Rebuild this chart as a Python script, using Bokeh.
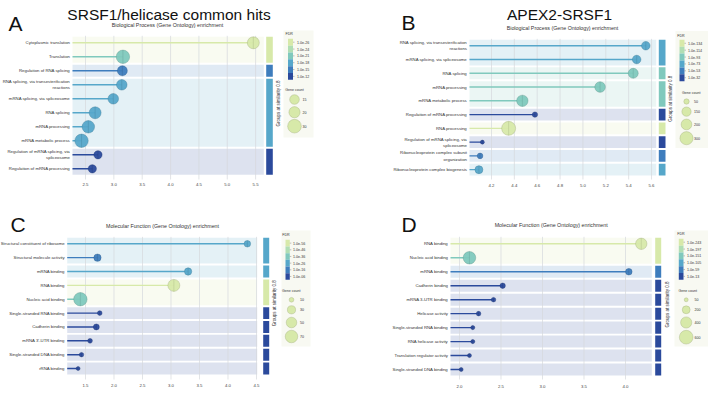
import numpy as np
from bokeh.plotting import figure
from bokeh.models import Range1d, LinearAxis, FixedTicker, ColumnDataSource, Label, PrintfTickFormatter
from bokeh.layouts import column, row
from bokeh.embed import file_html
from bokeh.resources import INLINE
from bokeh.core.properties import value

FONT = "Liberation Sans"
PALETTE = ["#d7e9a9", "#b0deb3", "#80c9bd", "#56a7ca", "#3e7dbd", "#2b4a9c"]

# ---------------- Panel A : SRSF1/helicase common hits, Biological Process
a_terms = ["Cytoplasmic translation", "Translation", "Regulation of RNA splicing",
           "RNA splicing, via transesterification\nreactions", "mRNA splicing, via spliceosome",
           "RNA splicing", "mRNA processing", "mRNA metabolic process",
           "Regulation of mRNA splicing, via\nspliceosome", "Regulation of mRNA processing"]
a_signal = [5.46, 3.16, 3.15, 3.14, 2.99, 2.67, 2.55, 2.43, 2.72, 2.62]
a_log_fdr = [-26, -21, -15, -18, -18, -18, -18, -18, -12, -12]
a_count = [23, 29, 16, 18, 18, 23, 25, 29, 11, 11]
a_group = [0, 0, 1, 2, 2, 2, 2, 2, 3, 3]
a_fdr_levels = [-26, -24, -21, -18, -15, -12]
a_count_legend = [15, 20, 30]
a_ticks = [2.5, 3.0, 3.5, 4.0, 4.5, 5.0, 5.5]

# ---------------- Panel B : APEX2-SRSF1, Biological Process
b_terms = ["RNA splicing, via transesterification\nreactions", "mRNA splicing, via spliceosome",
           "RNA splicing", "mRNA processing", "mRNA metabolic process",
           "Regulation of mRNA processing", "RNA processing",
           "Regulation of mRNA splicing, via\nspliceosome",
           "Ribonucleoprotein complex subunit\norganization", "Ribonucleoprotein complex biogenesis"]
b_signal = [5.55, 5.47, 5.44, 5.15, 4.47, 4.58, 4.35, 4.12, 4.10, 4.09]
b_log_fdr = [-73, -73, -93, -93, -93, -32, -134, -32, -53, -73]
b_count = [128, 128, 173, 195, 225, 50, 340, 28, 55, 111]
b_group = [0, 0, 1, 2, 2, 3, 4, 5, 6, 7]
b_fdr_levels = [-134, -114, -93, -73, -53, -32]
b_count_legend = [50, 150, 200, 300]
b_ticks = [4.2, 4.4, 4.6, 4.8, 5.0, 5.2, 5.4, 5.6]

# ---------------- Panel C : SRSF1/helicase common hits, Molecular Function
c_terms = ["Structural constituent of ribosome", "Structural molecule activity", "mRNA binding",
           "RNA binding", "Nucleic acid binding", "Single-stranded RNA binding", "Cadherin binding",
           "mRNA 3'-UTR binding", "Single-stranded DNA binding", "rRNA binding"]
c_signal = [4.34, 1.71, 3.30, 3.05, 1.41, 1.75, 1.69, 1.58, 1.43, 1.37]
c_log_fdr = [-26, -16, -26, -56, -36, -6, -6, -6, -6, -6]
c_count = [19, 24, 24, 64, 80, 10, 16, 10, 9, 7]
c_group = [0, 0, 1, 2, 2, 3, 4, 5, 6, 7]
c_fdr_levels = [-56, -46, -36, -26, -16, -6]
c_count_legend = [10, 30, 50, 70]
c_ticks = [1.5, 2.0, 2.5, 3.0, 3.5, 4.0, 4.5]

# ---------------- Panel D : APEX2-SRSF1, Molecular Function
d_terms = ["RNA binding", "Nucleic acid binding", "mRNA binding", "Cadherin binding",
           "mRNA 3-UTR binding", "Helicase activity", "Single-stranded RNA binding",
           "RNA helicase activity", "Translation regulator activity", "Single-stranded DNA binding"]
d_signal = [4.19, 2.12, 4.04, 2.52, 2.41, 2.23, 2.16, 2.16, 2.12, 2.02]
d_log_fdr = [-243, -151, -59, -13, -13, -13, -13, -13, -13, -13]
d_count = [414, 506, 139, 93, 67, 67, 55, 55, 52, 52]
d_group = [0, 0, 1, 2, 3, 4, 5, 6, 7, 8]
d_fdr_levels = [-243, -197, -151, -105, -59, -13]
d_count_legend = [50, 200, 400, 600]
d_ticks = [2.0, 2.5, 3.0, 3.5, 4.0]


def darken(h, f=0.72):
    h = h.lstrip("#")
    r, g, b = (int(h[i:i + 2], 16) for i in (0, 2, 4))
    return "#%02x%02x%02x" % (int(r * f), int(g * f), int(b * f))


def txt(p, x, y, s, size, align="left", baseline="middle", color="#333333", angle=0.0, **kw):
    p.text(x=[x], y=[y], text=[s], text_align=align, text_baseline=baseline,
           text_font=value(FONT), text_font_size=size, text_color=color, angle=angle, **kw)


def make_panel(d, g):
    W, H = 354, 198
    fb = g["fb"]
    n = len(d["terms"])
    p = figure(width=W, height=H, output_backend="svg", toolbar_location=None,
               x_range=Range1d(0, W), y_range=Range1d(fb, 0),
               x_axis_type=None, y_axis_type=None,
               min_border_left=0, min_border_right=0, min_border_top=0,
               min_border_bottom=H - fb)
    p.outline_line_color = None
    p.background_fill_color = "white"
    p.border_fill_color = "white"
    ppu, t0, t0px = g["ppu"], g["tick0"], g["tick0_px"]
    p.extra_x_ranges = {"sig": Range1d(t0 - t0px / ppu, t0 + (W - t0px) / ppu)}
    p.extra_y_ranges = {"row": Range1d((fb - g["row0"]) / g["sp"], -g["row0"] / g["sp"])}
    xmin = t0 - (t0px - g["left"]) / ppu
    xmax = t0 + (g["right"] - t0px) / ppu

    levels = np.array(d["fdr_levels"])
    colors = [PALETTE[int(np.argmin(np.abs(levels - v)))] for v in d["log_fdr"]]

    # group bands and group bars
    groups = d["groups"]
    tops, bots, gcols = [], [], []
    for gid in sorted(set(groups)):
        rr = [i for i, gg in enumerate(groups) if gg == gid]
        tops.append(min(rr) - 0.5 + 0.07)
        bots.append(max(rr) + 0.5 - 0.07)
        gcols.append(colors[min(rr)])
    ng = len(tops)
    gsrc = ColumnDataSource(dict(top=tops, bottom=bots, c=gcols,
                                 bl=[g["left"]] * ng, br=[g["right"]] * ng,
                                 gl=[g["bar"][0]] * ng, gr=[g["bar"][1]] * ng))
    p.quad(left="bl", right="br", top="top", bottom="bottom", fill_color="c",
           fill_alpha=0.16, line_color=None, source=gsrc, y_range_name="row")
    p.quad(left="gl", right="gr", top="top", bottom="bottom", fill_color="c",
           line_color=None, source=gsrc, y_range_name="row")

    ticks = d["ticks"]
    p.segment(x0=ticks, x1=ticks, y0=[-0.5] * len(ticks), y1=[n - 0.1] * len(ticks),
              x_range_name="sig", y_range_name="row", line_color="#d6d8dc", line_width=0.7)

    # lollipops
    k = g["k"]
    src = ColumnDataSource(dict(x=d["signal"], y=list(range(n)), c=colors,
                                oc=[darken(c) for c in colors], x0=[xmin] * n,
                                s=[2 * k * np.sqrt(v) for v in d["count"]]))
    p.segment(x0="x0", x1="x", y0="y", y1="y", line_color="c", line_width=1.4, source=src,
              x_range_name="sig", y_range_name="row")
    p.scatter(x="x", y="y", size="s", fill_color="c", line_color="oc", line_width=0.5,
              line_alpha=0.7, fill_alpha=0.95, source=src, x_range_name="sig", y_range_name="row")
    p.scatter(x="x", y="y", size="s", marker="dash", angle=np.pi / 2, line_color="oc",
              line_width=0.5, line_alpha=0.6, source=src, x_range_name="sig", y_range_name="row")

    # term labels
    lsrc = ColumnDataSource(dict(lx=[g["left"] - 2.5] * n, y=list(range(n)), t=d["terms"]))
    p.text(x="lx", y="y", text="t", source=lsrc, text_align="right",
           text_baseline="middle", text_font=value(FONT), text_font_size="4.3px",
           text_color="#333333", text_line_height=1.25, y_range_name="row")

    # signal axis
    ax = LinearAxis(x_range_name="sig", ticker=FixedTicker(ticks=ticks), bounds=(xmin, xmax),
                    formatter=PrintfTickFormatter(format="%.1f"))
    ax.axis_line_color = None
    ax.major_tick_line_color = None
    ax.minor_tick_line_color = None
    ax.major_tick_out = 0
    ax.major_tick_in = 0
    ax.major_label_text_font = FONT
    ax.major_label_text_font_size = "4.3px"
    ax.major_label_text_color = "#444444"
    ax.major_label_standoff = g["tick_standoff"]
    p.add_layout(ax, "below")
    p.add_layout(Label(x=(g["left"] + g["right"]) / 2, y=g["signal_y"], text="Signal",
                       text_align="center", text_baseline="middle", text_font=FONT,
                       text_font_size="4.5px", text_color="#333333"))

    txt(p, g["vtext"][0], g["vtext"][1], "Groups at similarity 0.8", "4.5px", align="center",
        angle=np.pi / 2)

    # legends
    bl, br, bt, bb = g["bg"]
    p.quad(left=[bl], right=[br], top=[bt], bottom=[bb], fill_color="#f8f9f2", line_color=None)
    txt(p, g["fdr_title"][0], g["fdr_title"][1], "FDR", "3.6px")
    cl, cr, ct, cbm = g["cb"]
    nl = len(levels)
    edges = np.linspace(ct, cbm, nl + 1)
    p.quad(left=[cl] * nl, right=[cr] * nl, top=edges[:-1], bottom=edges[1:],
           fill_color=PALETTE, line_color=None)
    mids = (edges[:-1] + edges[1:]) / 2
    p.segment(x0=[cr] * nl, x1=[cr + 1.5] * nl, y0=mids, y1=mids, line_color="#666666",
              line_width=0.4)
    p.text(x=[g["cb_lab_x"]] * nl, y=mids, text=["1.0e-%02d" % abs(v) for v in d["fdr_levels"]],
           text_align="left", text_baseline="middle", text_font=value(FONT),
           text_font_size="3.6px", text_color="#333333")
    txt(p, g["gc_title"][0], g["gc_title"][1], "Gene count", "3.6px", align="center")
    nc = len(d["count_legend"])
    cl_sizes = [2 * k * np.sqrt(v) for v in d["count_legend"]]
    p.scatter(x=[g["gc_x"]] * nc, y=g["gc_ys"], size=cl_sizes, fill_color=PALETTE[0],
              line_color=darken(PALETTE[0]), line_width=0.5, line_alpha=0.7)
    p.text(x=[g["gc_lab_x"]] * nc, y=g["gc_ys"], text=[str(v) for v in d["count_legend"]],
           text_align="left", text_baseline="middle", text_font=value(FONT),
           text_font_size="3.6px", text_color="#333333")

    # headings
    txt(p, g["letter"][0], g["letter"][1], d["letter"], "21px", baseline="alphabetic", color="#111111")
    if d.get("title"):
        txt(p, g["title"][0], g["title"][1], d["title"], "15.5px", align="center",
            baseline="alphabetic", color="#111111")
    txt(p, g["subtitle"][0], g["subtitle"][1], d["subtitle"], "5.3px", align="center")
    return p


BP = "Biological Process (Gene Ontology) enrichment"
MF = "Molecular Function (Gene Ontology) enrichment"

dA = dict(terms=a_terms, signal=a_signal, log_fdr=a_log_fdr, count=a_count, groups=a_group,
          fdr_levels=a_fdr_levels, count_legend=a_count_legend, ticks=a_ticks,
          letter="A", title="SRSF1/helicase common hits", subtitle=BP)
dB = dict(terms=b_terms, signal=b_signal, log_fdr=b_log_fdr, count=b_count, groups=b_group,
          fdr_levels=b_fdr_levels, count_legend=b_count_legend, ticks=b_ticks,
          letter="B", title="APEX2-SRSF1", subtitle=BP)
dC = dict(terms=c_terms, signal=c_signal, log_fdr=c_log_fdr, count=c_count, groups=c_group,
          fdr_levels=c_fdr_levels, count_legend=c_count_legend, ticks=c_ticks,
          letter="C", title=None, subtitle=MF)
dD = dict(terms=d_terms, signal=d_signal, log_fdr=d_log_fdr, count=d_count, groups=d_group,
          fdr_levels=d_fdr_levels, count_legend=d_count_legend, ticks=d_ticks,
          letter="D", title=None, subtitle=MF)

gA = dict(fb=179, left=72, right=263.3, tick0=2.5, tick0_px=85, ppu=56.7, row0=42.3, sp=14,
          bar=(265.7, 272.3), vtext=(277.7, 103), bg=(283, 313, 30, 137), fdr_title=(285, 33),
          cb=(287.5, 292.5, 38.3, 79.3), cb_lab_x=296.5, gc_title=(294, 89), gc_x=294,
          gc_ys=[99, 111.7, 125.7], gc_lab_x=302, letter=(8, 23.3), title=(168.5, 13.7),
          subtitle=(167, 24), tick_standoff=3, signal_y=191.7, k=1.25)
gB = dict(fb=182, left=115, right=301.7, tick0=4.2, tick0_px=137, ppu=114.3, row0=46, sp=14,
          bar=(304.3, 311), vtext=(315.7, 100), bg=(321, 354, 31, 150), fdr_title=(322.7, 36),
          cb=(325, 330, 40, 82), cb_lab_x=333.5, gc_title=(336.7, 94), gc_x=332,
          gc_ys=[102.7, 113, 126, 140], gc_lab_x=339.5, letter=(47, 22.7), title=(205, 14),
          subtitle=(208, 27.7), tick_standoff=4, signal_y=195, k=0.38)
gC = dict(fb=181, left=66.7, right=256.7, tick0=1.5, tick0_px=85, ppu=57, row0=45.3, sp=13.86,
          bar=(262.7, 268.7), vtext=(274, 104.7), bg=(281, 310, 32, 148), fdr_title=(281.7, 36.3),
          cb=(285, 289.3, 41.3, 81.3), cb_lab_x=292.5, gc_title=(290.7, 92.3), gc_x=291,
          gc_ys=[101.3, 111.3, 124, 138], gc_lab_x=299.5, letter=(10, 26), title=None,
          subtitle=(162, 27), tick_standoff=4, signal_y=193, k=0.75)
gD = dict(fb=181, left=96, right=297.3, tick0=2.0, tick0_px=105, ppu=83, row0=45.3, sp=13.97,
          bar=(300.7, 306.7), vtext=(312.7, 106), bg=(320, 354, 32, 148), fdr_title=(322.7, 35.3),
          cb=(324.3, 329, 40.3, 81.3), cb_lab_x=332.5, gc_title=(333.3, 92.3), gc_x=331.7,
          gc_ys=[101.3, 111.3, 124, 138.7], gc_lab_x=340, letter=(47, 26), title=None,
          subtitle=(196.7, 26.3), tick_standoff=5, signal_y=194.7, k=0.28)

layout = column(row(make_panel(dA, gA), make_panel(dB, gB)),
                row(make_panel(dC, gC), make_panel(dD, gD)))

with open("out.html", "w") as f:
    f.write(file_html(layout, INLINE))
